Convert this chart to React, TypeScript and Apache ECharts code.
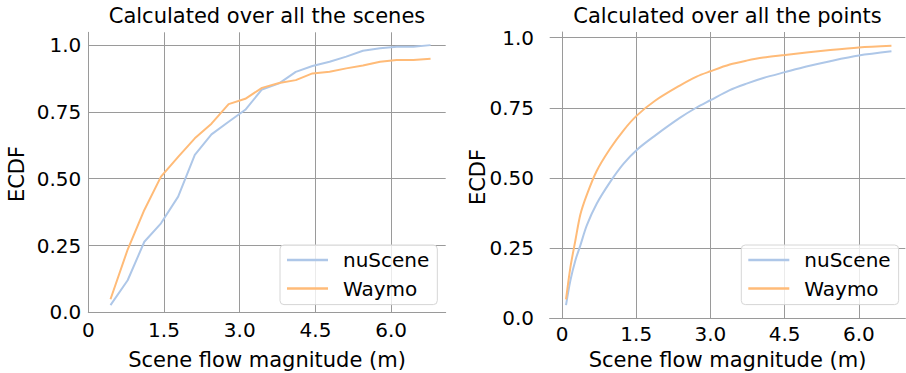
import React, { useEffect, useRef } from "react";
import * as echarts from "echarts";

// ---- data ----
const seriesNames = ["nuScene", "Waymo"];

// Left: calculated over all the scenes
const sceneX = [0.44, 0.78, 1.11, 1.44, 1.78, 2.11, 2.44, 2.78, 3.11, 3.44, 3.78, 4.11, 4.44, 4.78, 5.11, 5.44, 5.78, 6.11, 6.44, 6.78];
const sceneNuScene = [0.027, 0.12, 0.264, 0.333, 0.433, 0.589, 0.666, 0.713, 0.758, 0.834, 0.857, 0.9, 0.922, 0.938, 0.957, 0.979, 0.988, 0.994, 0.994, 1.0];
const sceneWaymo = [0.049, 0.235, 0.383, 0.508, 0.582, 0.651, 0.706, 0.779, 0.799, 0.84, 0.858, 0.869, 0.894, 0.9, 0.913, 0.924, 0.938, 0.944, 0.944, 0.949];

// Right: calculated over all the points
const pointX = [0.08, 0.17, 0.27, 0.37, 0.5, 0.7, 0.97, 1.24, 1.51, 1.88, 2.38, 2.72, 3.0, 3.39, 3.73, 4.07, 4.51, 4.94, 5.42, 6.0, 6.66];
const pointNuScene = [0.047, 0.136, 0.207, 0.26, 0.331, 0.408, 0.485, 0.55, 0.6, 0.651, 0.714, 0.751, 0.777, 0.813, 0.836, 0.856, 0.877, 0.897, 0.916, 0.936, 0.951];
const pointWaymo = [0.067, 0.183, 0.278, 0.37, 0.44, 0.525, 0.604, 0.669, 0.722, 0.775, 0.829, 0.861, 0.88, 0.904, 0.918, 0.929, 0.938, 0.947, 0.956, 0.965, 0.971];

// ticks
const xTickValues = [0, 1.5, 3.0, 4.5, 6.0];
const xTickLabels = ["0", "1.5", "3.0", "4.5", "6.0"];
const yTickValues = [0, 0.25, 0.5, 0.75, 1.0];
const yTickLabels = ["0.0", "0.25", "0.50", "0.75", "1.0"];

const titles = ["Calculated over all the scenes", "Calculated over all the points"];
const xName = "Scene flow magnitude (m)";
const yName = "ECDF";

// ---- styles ----
const FONT = "DejaVu Sans";
const GRID = "#9a9a9a";
const COLORS = ["#aec7e8", "#ffbb78"];

const labelFrom = (values: number[], labels: string[]) => (v: number) => {
  for (let i = 0; i < values.length; i++) {
    if (Math.abs(values[i] - v) < 1e-6) return labels[i];
  }
  return "";
};
const fmtX = labelFrom(xTickValues, xTickLabels);
const fmtY = labelFrom(yTickValues, yTickLabels);

function makeLegend(left: number) {
  return {
    data: seriesNames,
    orient: "vertical",
    left,
    top: 245,
    padding: [5, 8, 6, 7],
    itemWidth: 41,
    itemHeight: 2.5,
    itemGap: 8.6,
    icon: "rect",
    backgroundColor: "rgba(255,255,255,0.8)",
    borderColor: "#d6d6d6",
    borderWidth: 1,
    borderRadius: 4,
    selectedMode: false,
    textStyle: { fontFamily: FONT, fontSize: 20, color: "#000", padding: [0, 0, 0, 10], lineHeight: 20 },
  };
}

export default function App() {
  const ref = useRef<HTMLDivElement>(null);
  useEffect(() => {
    if (!ref.current) return;
    const chart = echarts.init(ref.current, null, { renderer: "svg" });
    const axisLine = { show: true, lineStyle: { color: GRID, width: 1 } };
    const split = { show: true, lineStyle: { color: GRID, width: 1 }, showMaxLine: false };
    const xLabel = (margin: number) => ({ margin, fontSize: 20, color: "#000", fontFamily: FONT, formatter: fmtX });
    const yLabel = (margin: number) => ({ margin, fontSize: 20, color: "#000", fontFamily: FONT, formatter: fmtY });

    const mk = (xs: number[], ys: number[]) => xs.map((x, i) => [x, ys[i]]);

    const option: any = {
      animation: false,
      color: COLORS,
      textStyle: { fontFamily: FONT },
      grid: [
        { left: 88.3, top: 32.3, width: 357.4, height: 280 },
        { left: 549.7, top: 32, width: 355.6, height: 286.3 },
      ],
      xAxis: [
        {
          gridIndex: 0, type: "value", min: 0, max: 7.08, interval: 1.5,
          axisLine, axisTick: { show: false }, axisLabel: xLabel(8), splitLine: split,
        },
        {
          gridIndex: 1, type: "value", min: -0.25, max: 6.94,
          axisLine, axisTick: { show: false, customValues: xTickValues },
          axisLabel: { ...xLabel(6), customValues: xTickValues },
          splitLine: { show: true, lineStyle: { color: GRID, width: 1 } },
        },
      ],
      yAxis: [
        {
          gridIndex: 0, type: "value", min: 0, max: 1.048, interval: 0.25,
          axisLine, axisTick: { show: false }, axisLabel: yLabel(7), splitLine: split,
        },
        {
          gridIndex: 1, type: "value", min: 0, max: 1.02, interval: 0.25,
          axisLine, axisTick: { show: false }, axisLabel: yLabel(15.7), splitLine: split,
        },
      ],
      legend: [makeLegend(280), makeLegend(741.3)],
      series: [
        { name: seriesNames[0], type: "line", xAxisIndex: 0, yAxisIndex: 0, data: mk(sceneX, sceneNuScene), symbol: "none", lineStyle: { width: 2, color: COLORS[0] }, itemStyle: { color: COLORS[0] } },
        { name: seriesNames[1], type: "line", xAxisIndex: 0, yAxisIndex: 0, data: mk(sceneX, sceneWaymo), symbol: "none", lineStyle: { width: 2, color: COLORS[1] }, itemStyle: { color: COLORS[1] } },
        { name: seriesNames[0], type: "line", xAxisIndex: 1, yAxisIndex: 1, data: mk(pointX, pointNuScene), symbol: "none", smooth: 0.3, lineStyle: { width: 2, color: COLORS[0] }, itemStyle: { color: COLORS[0] } },
        { name: seriesNames[1], type: "line", xAxisIndex: 1, yAxisIndex: 1, data: mk(pointX, pointWaymo), symbol: "none", smooth: 0.3, lineStyle: { width: 2, color: COLORS[1] }, itemStyle: { color: COLORS[1] } },
      ],
      graphic: [
        { type: "text", x: 267, y: 15.5, style: { text: titles[0], font: `21px '${FONT}'`, fill: "#000", textAlign: "center", textVerticalAlign: "middle" } },
        { type: "text", x: 727.5, y: 15.5, style: { text: titles[1], font: `21px '${FONT}'`, fill: "#000", textAlign: "center", textVerticalAlign: "middle" } },
        { type: "text", x: 267, y: 359.5, style: { text: xName, font: `21px '${FONT}'`, fill: "#000", textAlign: "center", textVerticalAlign: "middle" } },
        { type: "text", x: 727.5, y: 359.5, style: { text: xName, font: `21px '${FONT}'`, fill: "#000", textAlign: "center", textVerticalAlign: "middle" } },
        { type: "text", x: 16.7, y: 174, rotation: Math.PI / 2, style: { text: yName, font: `21px '${FONT}'`, fill: "#000", textAlign: "center", textVerticalAlign: "middle" } },
        { type: "text", x: 478, y: 177, rotation: Math.PI / 2, style: { text: yName, font: `21px '${FONT}'`, fill: "#000", textAlign: "center", textVerticalAlign: "middle" } },
      ],
    };
    chart.setOption(option);
    return () => chart.dispose();
  }, []);
  return <div ref={ref} style={{ position: "fixed", left: 0, top: 0, width: 906, height: 373, background: "#fff" }} />;
}
